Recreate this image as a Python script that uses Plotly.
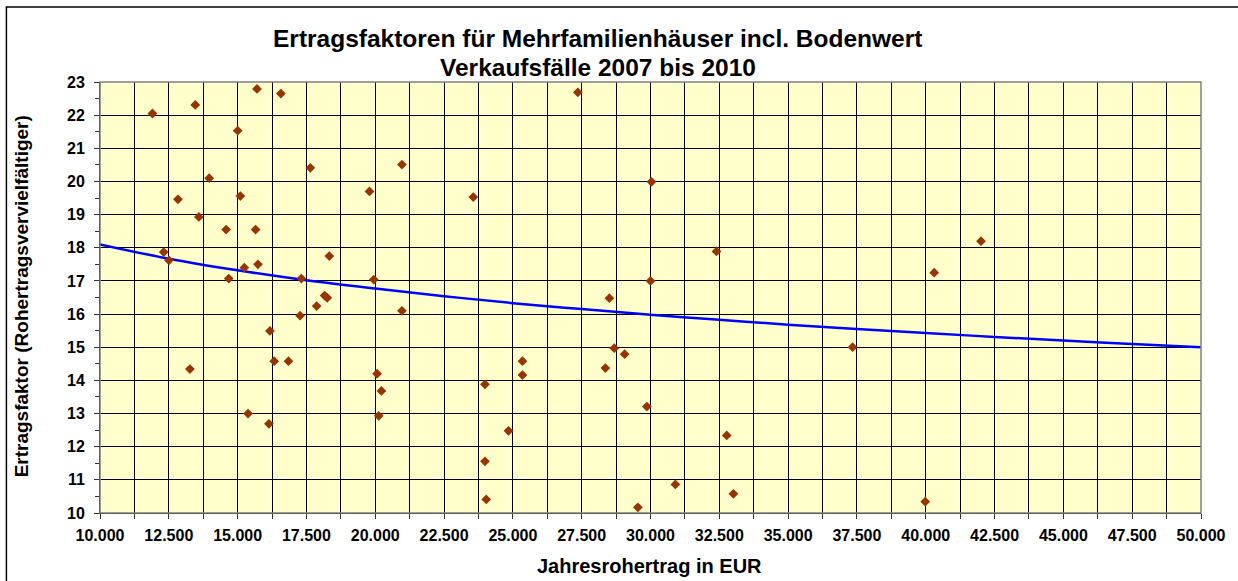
import plotly.graph_objects as go

# Verkaufsfälle: Jahresrohertrag (EUR) und Ertragsfaktor
ertrag = [11906, 13461, 15703, 16571, 15003, 13967, 17642, 12832, 15099, 13591,
          14582, 15653, 19790, 12315, 12506, 18330, 15244, 15738, 14677, 17316,
          19946, 18159, 18256, 17871, 17270, 16173, 16329, 16847, 13266, 20065,
          20224, 15378, 20127, 16137, 20970, 27360, 23562, 30036, 32398, 30000,
          28506, 20970, 28683, 29060, 28360, 25347, 25347, 23986, 29867, 24840,
          32770, 23986, 30904, 33012, 24033, 29541, 42007, 40307, 37342, 39982]
faktor = [22.05, 22.31, 22.79, 22.65, 21.53, 20.10, 20.41, 19.46, 19.56, 18.93,
          18.55, 18.55, 19.70, 17.87, 17.62, 17.75, 17.40, 17.50, 17.07, 17.07,
          17.04, 16.56, 16.49, 16.24, 15.95, 15.49, 14.58, 14.58, 14.34, 14.20,
          13.68, 13.00, 12.93, 12.69, 20.51, 22.69, 19.53, 19.99, 17.89, 17.00,
          16.48, 16.10, 14.97, 14.79, 14.37, 14.58, 14.16, 13.88, 13.21, 12.48,
          12.34, 11.56, 10.86, 10.58, 10.41, 10.17, 18.20, 17.25, 15.00, 10.34]

trend_x = [10000, 12500, 15000, 17500, 20000, 22500, 25000, 27500, 30000,
           32500, 35000, 37500, 40000, 42500, 45000, 47500, 50000]
trend_y = [18.10, 17.67, 17.32, 17.02, 16.77, 16.54, 16.33, 16.15, 15.98,
           15.83, 15.68, 15.55, 15.43, 15.31, 15.20, 15.10, 15.00]

font = 'Liberation Sans, Arial, sans-serif'
bold_tick = dict(size=16, family=font, weight='bold', color='black')

fig = go.Figure()
fig.add_trace(go.Scatter(x=trend_x, y=trend_y, mode='lines', line_shape='spline',
                         line=dict(color='#0000FF', width=2.5), hoverinfo='skip'))
fig.add_trace(go.Scatter(x=ertrag, y=faktor, mode='markers',
                         marker=dict(symbol='diamond', size=7.5, color='#993300')))

fig.update_layout(
    width=1238, height=581,
    margin=dict(l=100, r=32, t=82, b=68),
    paper_bgcolor='white', plot_bgcolor='#FFFFCC',
    showlegend=False,
    separators=',.',
    font=dict(family=font, color='black'),
    xaxis=dict(
        range=[10000, 50000], dtick=2500, tick0=10000, tickformat=',d',
        showgrid=True, gridcolor='black', gridwidth=1,
        minor=dict(dtick=1250, showgrid=True, gridcolor='black', gridwidth=1,
                   ticks='outside', ticklen=5, tickcolor='#333'),
        ticks='outside', ticklen=5, tickcolor='#333',
        showline=True, linecolor='black', linewidth=1,
        tickfont=bold_tick, ticklabelstandoff=3,
        zeroline=False,
    ),
    yaxis=dict(
        range=[10, 23], dtick=1, tick0=10,
        showgrid=True, gridcolor='black', gridwidth=1,
        minor=dict(dtick=0.5, showgrid=False, ticks='outside', ticklen=4, tickcolor='#333'),
        ticks='outside', ticklen=5, tickcolor='#333',
        showline=True, linecolor='black', linewidth=1,
        tickfont=bold_tick, ticklabelstandoff=6,
        zeroline=False,
    ),
    annotations=[
        dict(text='<b>Ertragsfaktoren für Mehrfamilienhäuser incl. Bodenwert</b>',
             xref='paper', yref='paper', x=0.452, y=1.0998, xanchor='center', yanchor='middle',
             showarrow=False, font=dict(size=24.5, family=font)),
        dict(text='<b>Verkaufsfälle 2007 bis 2010</b>',
             xref='paper', yref='paper', x=0.452, y=1.0348, xanchor='center', yanchor='middle',
             showarrow=False, font=dict(size=24.5, family=font)),
        dict(text='<b>Jahresrohertrag in EUR</b>',
             xref='paper', yref='paper', x=0.499, y=-0.123, xanchor='center', yanchor='middle',
             showarrow=False, font=dict(size=20, family=font)),
        dict(text='<b>Ertragsfaktor (Rohertragsvervielfältiger)</b>', textangle=-90,
             xref='paper', yref='paper', x=-0.0705, y=0.5035, xanchor='center', yanchor='middle',
             showarrow=False, font=dict(size=19, family=font)),
    ],
    shapes=[
        # grauer Rahmen der Zeichnungsfläche
        dict(type='rect', xref='paper', yref='paper', x0=0, x1=1, y0=0, y1=1,
             line=dict(color='#808080', width=1.5), layer='above'),
        # äußerer Diagrammrahmen (rechts und unten ausserhalb des Bildes)
        dict(type='rect', xref='paper', yref='paper', x0=-0.085, x1=1.06, y0=-0.2, y1=1.174,
             line=dict(color='black', width=1.5), layer='above'),
    ],
)

fig.write_html("out.html", config={'displayModeBar': False},
               post_script="document.body.style.margin='0';")
